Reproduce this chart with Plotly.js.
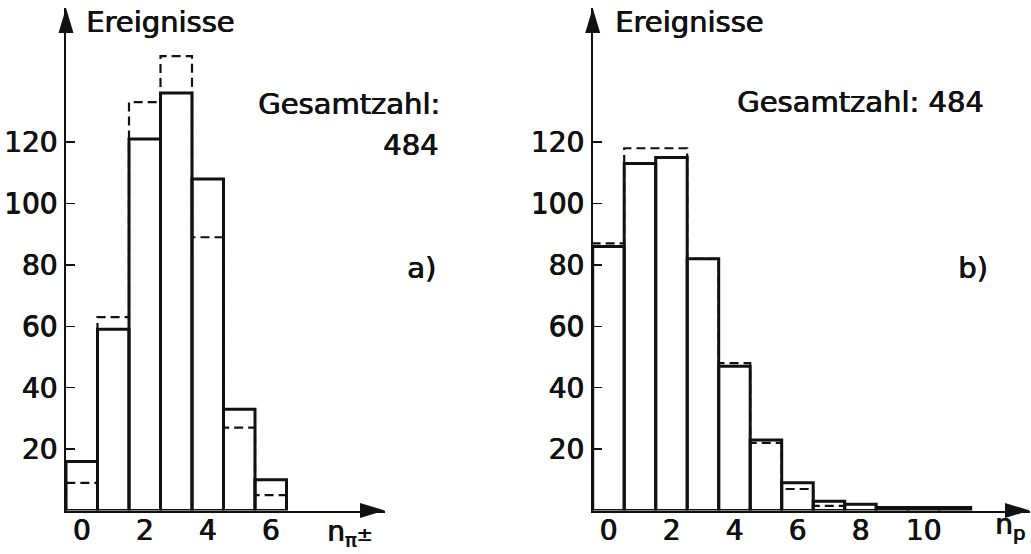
<!DOCTYPE html>
<html>
<head>
<meta charset="utf-8">
<script src="https://cdn.plot.ly/plotly-3.0.1.min.js"></script>
<style>html,body{margin:0;padding:0;background:#fff;}#chart{width:1031px;height:554px;}</style>
</head>
<body>
<div id="chart"></div>
<script>
// ---- data ----
const binsA = [0, 1, 2, 3, 4, 5, 6];
const solidA = [16, 59, 121, 136, 108, 33, 10];
const dashedA = [9, 63, 133, 148, 89, 27, 5];

const binsB = [0, 1, 2, 3, 4, 5, 6, 7, 8, 9, 10, 11];
const solidB = [86, 113, 115, 82, 47, 23, 9, 3, 2, 1, 1, 1];
const dashedB = [87, 118, 118, 82, 48, 22, 7, 1.5];

const yTickVals = [20, 40, 60, 80, 100, 120];
const xTickValsA = [0, 2, 4, 6];
const xTickValsB = [0, 2, 4, 6, 8, 10];

const yLabel = 'Ereignisse';
const totalA = 'Gesamtzahl:';
const totalNumA = '484';
const totalB = 'Gesamtzahl: 484';
const panelA = 'a)';
const panelB = 'b)';
const xLabelA = 'n<sub>π</sub><span style="font-size:19px">±</span>';
const xLabelB = 'n<sub>p</sub>';

// ---- geometry (pixels) ----
const W = 1031, H = 554;
const pxPerBin = 31.5, pxPerUnit = 3.07;
const baseY = 510.5, topY = 8;
const leftA = 66, tipA = 385;
const leftB = 592.7, tipB = 1030;

const yMax = (baseY - topY) / pxPerUnit;
const xMaxA = -0.5 + (tipA - leftA) / pxPerBin;
const xMaxB = -0.5 + (tipB - leftB) / pxPerBin;

const font = 'DejaVu Sans, sans-serif';
const thicken = '0.7px 0 0 #111, 0 0.4px 0 #111';

function stepTrace(bins, vals, xa, ya) {
  const n = vals.length;
  const x = [bins[0] - 0.5];
  const y = [0];
  for (let i = 0; i < n; i++) { x.push(bins[i] - 0.5); y.push(vals[i]); }
  x.push(bins[n - 1] + 0.5); y.push(0);
  return {
    type: 'scatter', mode: 'lines', x: x, y: y, xaxis: xa, yaxis: ya,
    line: {shape: 'hv', color: '#111', width: 2.2, dash: '9px,5px'},
    hoverinfo: 'skip', showlegend: false
  };
}
function barTrace(bins, vals, xa, ya) {
  return {
    type: 'bar', x: bins, y: vals, width: 1, xaxis: xa, yaxis: ya,
    marker: {color: 'rgba(255,255,255,0)', line: {color: '#111', width: 3}},
    hoverinfo: 'skip', showlegend: false
  };
}

const data = [
  barTrace(binsA, solidA, 'x', 'y'),
  stepTrace(binsA, dashedA, 'x', 'y'),
  barTrace(binsB, solidB, 'x2', 'y2'),
  stepTrace(binsB.slice(0, dashedB.length), dashedB, 'x2', 'y2')
];

function xAxis(range, dom, ticks, anchor) {
  return {
    range: range, domain: dom, anchor: anchor,
    showgrid: false, zeroline: false, showline: true, linecolor: '#111', linewidth: 2,
    tickmode: 'array', tickvals: ticks, ticks: '', ticklabelstandoff: -6,
    tickfont: {family: font, size: 28, color: '#111', shadow: thicken}, fixedrange: true
  };
}
function yAxis(dom, anchor) {
  return {
    range: [0, yMax], domain: dom, anchor: anchor,
    showgrid: false, zeroline: false, showline: true, linecolor: '#111', linewidth: 2,
    tickmode: 'array', tickvals: yTickVals, ticks: 'inside', ticklen: 9, tickwidth: 1.5, tickcolor: '#111',
    ticklabelstandoff: 1,
    tickfont: {family: font, size: 28, color: '#111', shadow: thicken}, fixedrange: true
  };
}

const yDom = [(H - baseY) / H, (H - topY) / H];

function ann(text, px, py, xanchor, size) {
  return {text: text, xref: 'paper', yref: 'paper', x: px / W, y: 1 - py / H,
    xanchor: xanchor, yanchor: 'middle', showarrow: false,
    font: {family: font, size: size, color: '#111', shadow: thicken}};
}

function arrowRight(tipPx) {
  return {type: 'path', xref: 'paper', yref: 'paper', xsizemode: 'pixel', ysizemode: 'pixel',
    xanchor: tipPx / W, yanchor: (H - baseY) / H,
    path: 'M0,0 L-25,7.5 L-25,-7.5 Z', fillcolor: '#111', line: {width: 0}};
}
function arrowUp(axPx) {
  return {type: 'path', xref: 'paper', yref: 'paper', xsizemode: 'pixel', ysizemode: 'pixel',
    xanchor: axPx / W, yanchor: (H - topY) / H,
    path: 'M0,0 L-7.5,-25 L7.5,-25 Z', fillcolor: '#111', line: {width: 0}};
}

const layout = {
  width: W, height: H,
  margin: {l: 0, r: 0, t: 0, b: 0},
  paper_bgcolor: '#fff', plot_bgcolor: 'rgba(0,0,0,0)',
  barmode: 'overlay', showlegend: false,
  xaxis: xAxis([-0.5, xMaxA], [leftA / W, tipA / W], xTickValsA, 'y'),
  yaxis: yAxis(yDom, 'x'),
  xaxis2: xAxis([-0.5, xMaxB], [leftB / W, tipB / W], xTickValsB, 'y2'),
  yaxis2: yAxis(yDom, 'x2'),
  shapes: [arrowRight(tipA), arrowUp(leftA), arrowRight(tipB), arrowUp(leftB)],
  annotations: [
    ann(yLabel, 84, 22, 'left', 29),
    ann(yLabel, 613, 22, 'left', 29),
    ann(totalA, 442, 104, 'right', 29),
    ann(totalNumA, 440, 145, 'right', 29),
    ann(panelA, 438, 268, 'right', 29),
    ann(totalB, 986, 102, 'right', 29),
    ann(panelB, 990, 268, 'right', 29),
    ann(xLabelA, 325, 533, 'left', 28),
    ann(xLabelB, 993, 526, 'left', 28)
  ]
};

Plotly.newPlot('chart', data, layout, {displayModeBar: false, staticPlot: true});
</script>
</body>
</html>
